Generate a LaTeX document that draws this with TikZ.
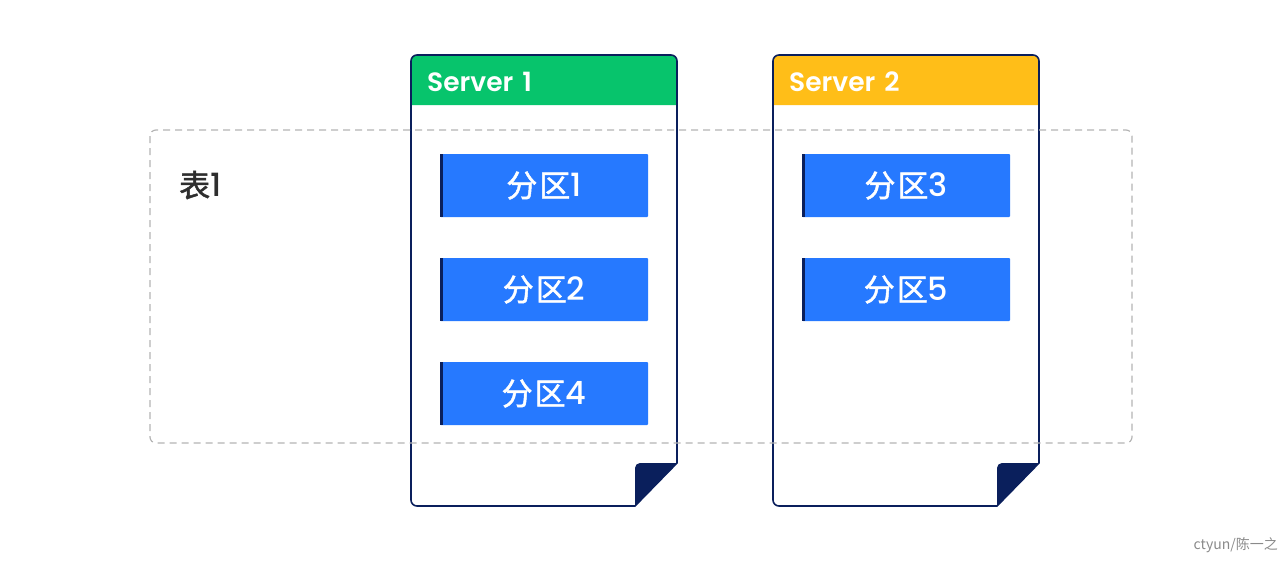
\documentclass[tikz,border=0pt]{standalone}
\usepackage{fontspec}
\newfontfamily\cjk{Noto Sans CJK SC}
\newfontfamily\cjkm{Noto Sans CJK SC}[FakeBold=1.5]
\newfontfamily\pop{Poppins}[UprightFont=* SemiBold, BoldFont=* Bold]
\newfontfamily\popm{Poppins}[UprightFont=* Medium]
\definecolor{srvgreen}{HTML}{07C46C}
\definecolor{srvyellow}{HTML}{FFBE18}
\definecolor{navy}{HTML}{0A1F5C}
\definecolor{partblue}{HTML}{2679FF}
\definecolor{dashgray}{HTML}{B4B4B4}
\definecolor{wmgray}{HTML}{8A8A8A}
\begin{document}
\begin{tikzpicture}[x=1pt,y=-1pt,
  partbox/.style={fill=partblue, minimum width=208pt, minimum height=63pt, inner sep=0pt,
    text=white, font=\cjkm\fontsize{31}{33}\selectfont, rounded corners=1pt},
  srvtitle/.style={text=white, font=\pop\fontsize{26.5}{28}\selectfont, anchor=west, inner sep=0pt},
  srvline/.style={draw=navy, line width=1.6pt}]
\useasboundingbox (0,0) rectangle (1280,560);
% servers
\foreach \x/\col/\nm/\lab in {411/srvgreen/s1/1, 773/srvyellow/s2/2}{
  \pgfmathsetmacro{\xr}{\x+266}
  \pgfmathsetmacro{\xf}{\x+224}
  \fill[white] (\x,55) -- (\xr,55) -- (\xr,463) -- (\xf,506) -- (\x,506) -- cycle;
  \fill[\col, rounded corners=6pt] (\x,105) -- (\x,55) -- (\xr,55) [sharp corners]-- (\xr,105) -- cycle;
  \fill[navy] (\xf,506) [rounded corners=5pt]-- (\xf,463) [sharp corners]-- (\xr,463) -- cycle;
  \draw[srvline, rounded corners=6pt] (\xf,506) -- (\x,506) -- (\x,55) -- (\xr,55) [sharp corners]-- (\xr,463) -- cycle;
  \node[srvtitle] (\nm) at (\x+16,82) {Server\hspace{9pt}\lab};
}
% partitions
\foreach \nm/\x/\y/\lab in {p1/544/185.5/1, p2/544/289.5/2, p4/544/393.5/4, p3/906/185.5/3, p5/906/289.5/5}{
  \node[partbox] (\nm) at (\x,\y) {分\hspace{2pt}区{\popm\fontsize{32}{33}\selectfont\lab}};
  \fill[navy] (\nm.north west) rectangle ([xshift=3pt]\nm.south west);
}
% table region
\draw[dashgray, line width=1.2pt, dash pattern=on 7pt off 5pt, rounded corners=6pt] (150,130) rectangle (1132,443);
\node[font=\cjkm\fontsize{31}{33}\selectfont, text=black!82, anchor=west, inner sep=0pt] (t1) at (179,185) {表{\popm\fontsize{32}{33}\selectfont 1}};
% watermark
\node[font=\cjk\fontsize{14}{16}\selectfont, text=wmgray, anchor=east, inner sep=0pt] (wm) at (1278,545) {ctyun/陈一之};
\end{tikzpicture}
\end{document}
